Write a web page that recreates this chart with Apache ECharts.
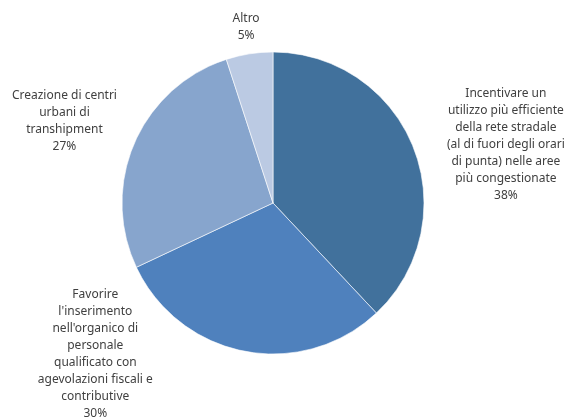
<!DOCTYPE html>
<html>
<head>
<meta charset="utf-8">
<script src="https://cdn.jsdelivr.net/npm/echarts@6/dist/echarts.min.js"></script>
<style>
  html, body { margin: 0; padding: 0; background: #fff; }
  #chart { width: 569px; height: 418px; }
</style>
</head>
<body>
<div id="chart"></div>
<script>
// slice names, with the line breaks used in the original labels
const categories = [
  'Incentivare un\nutilizzo più efficiente\ndella rete stradale\n(al di fuori degli orari\ndi punta) nelle aree\npiù congestionate',
  'Favorire\nl\'inserimento\nnell\'organico di\npersonale\nqualificato con\nagevolazioni fiscali e\ncontributive',
  'Creazione di centri\nurbani di\ntranshipment',
  'Altro'
]
const values = [38, 30, 27, 5] // percent
const colors = ['#41719C', '#4F81BD', '#87A5CD', '#BBCAE3']

// label placement: distance of the label centre from the pie centre
// and angular shift (degrees) from the middle of its slice
const labelDist = [240, 233, 224, 178]
const labelShift = [7.6, 38.9, -2.0, 0.3]

const pieCenter = [273, 203]
const pieRadius = 151

const total = values.reduce((a, b) => a + b, 0)
const midAngles = []
let acc = 0
values.forEach(v => {
  midAngles.push((acc + v / 2) / total * 360)
  acc += v
})

const chart = echarts.init(document.getElementById('chart'))

chart.setOption({
  animation: false,
  series: [{
    type: 'pie',
    center: pieCenter,
    radius: pieRadius,
    startAngle: 90,
    clockwise: true,
    avoidLabelOverlap: false,
    data: categories.map((name, i) => ({
      name: name,
      value: values[i],
      itemStyle: { color: colors[i] }
    })),
    itemStyle: {
      borderColor: '#ffffff',
      borderWidth: 0.6
    },
    label: {
      show: true,
      position: 'outside',
      formatter: p => p.name + '\n' + p.value + '%',
      fontFamily: 'Noto Sans',
      fontSize: 12,
      lineHeight: 17,
      color: '#404040'
    },
    labelLine: { show: false },
    labelLayout: function (params) {
      const i = params.dataIndex
      const a = (midAngles[i] + labelShift[i]) * Math.PI / 180
      return {
        x: pieCenter[0] + labelDist[i] * Math.sin(a),
        y: pieCenter[1] - labelDist[i] * Math.cos(a),
        align: 'center',
        verticalAlign: 'middle'
      }
    },
    emphasis: { disabled: true }
  }]
})
</script>
</body>
</html>
